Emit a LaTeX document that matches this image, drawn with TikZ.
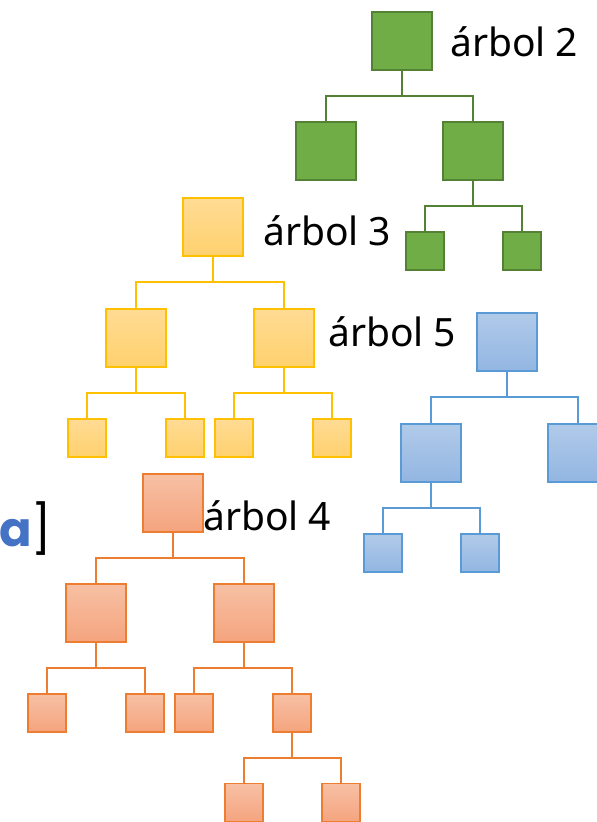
\documentclass[tikz,border=0pt]{standalone}
\usepackage{fontspec}
\setmainfont{Noto Sans}
\newfontfamily\popfont{Poppins}
\usetikzlibrary{calc}
\definecolor{gfill}{HTML}{70AD47}
\definecolor{gline}{HTML}{548235}
\definecolor{ytop}{HTML}{FFDB94}
\definecolor{ybot}{HTML}{FFD16E}
\definecolor{yline}{HTML}{FFC000}
\definecolor{btop}{HTML}{B1CAE9}
\definecolor{bbot}{HTML}{92B6E2}
\definecolor{bline}{HTML}{5B9BD5}
\definecolor{otop}{HTML}{F7C0A4}
\definecolor{obot}{HTML}{F5A47E}
\definecolor{oline}{HTML}{ED7D31}
\definecolor{ablue}{HTML}{4472C4}
\tikzset{
  sq/.style={rectangle, inner sep=0pt, outer sep=0pt},
  big/.style={sq, minimum width=60pt, minimum height=58pt},
  small/.style={sq, minimum width=38pt, minimum height=38pt},
  gbox/.style={draw=gline, line width=2.2pt, fill=gfill},
  ybox/.style={draw=yline, line width=1.6pt, top color=ytop, bottom color=ybot},
  bbox/.style={draw=bline, line width=1.8pt, top color=btop, bottom color=bbot},
  obox/.style={draw=oline, line width=1.8pt, top color=otop, bottom color=obot},
  glink/.style={draw=gline, line width=2pt},
  ylink/.style={draw=yline, line width=1.6pt},
  blink/.style={draw=bline, line width=1.6pt},
  olink/.style={draw=oline, line width=1.6pt},
  treelabel/.style={anchor=base west, inner sep=0pt, font=\fontsize{39}{39}\selectfont, text=black},
}
% parent-to-child elbow connector
\newcommand\elbow[3]{\draw[#1] (#2.south) -- ++(0,26) -| (#3.north);}
\begin{document}
\begin{tikzpicture}[x=1pt, y=-1pt]
  \useasboundingbox (0,0) rectangle (597,822);
  \begin{scope}
  \clip (0,0) rectangle (597,822);

  % green tree
  \node[big, gbox] (g0) at (402,41) {};
  \node[big, gbox] (g1) at (326,151) {};
  \node[big, gbox] (g2) at (473,151) {};
  \node[small, gbox] (g3) at (425,251) {};
  \node[small, gbox] (g4) at (522,251) {};
  \elbow{glink}{g0}{g1}
  \elbow{glink}{g0}{g2}
  \elbow{glink}{g2}{g3}
  \elbow{glink}{g2}{g4}
  \node[treelabel] (l2) at (450,56) {árbol 2};

  % yellow tree
  \node[big, ybox] (y0) at (213,227) {};
  \node[big, ybox] (y1) at (136,338) {};
  \node[big, ybox] (y2) at (284,338) {};
  \node[small, ybox] (y3) at (87,438) {};
  \node[small, ybox] (y4) at (185,438) {};
  \node[small, ybox] (y5) at (234,438) {};
  \node[small, ybox] (y6) at (332,438) {};
  \elbow{ylink}{y0}{y1}
  \elbow{ylink}{y0}{y2}
  \elbow{ylink}{y1}{y3}
  \elbow{ylink}{y1}{y4}
  \elbow{ylink}{y2}{y5}
  \elbow{ylink}{y2}{y6}
  \node[treelabel] (l3) at (263,245) {árbol 3};
  \node[treelabel] (l5) at (328,346) {árbol 5};

  % blue tree
  \node[big, bbox] (b0) at (507,342) {};
  \node[big, bbox] (b1) at (431,453) {};
  \node[big, bbox] (b2) at (578,453) {};
  \node[small, bbox] (b3) at (383,553) {};
  \node[small, bbox] (b4) at (480,553) {};
  \elbow{blink}{b0}{b1}
  \elbow{blink}{b0}{b2}
  \elbow{blink}{b1}{b3}
  \elbow{blink}{b1}{b4}

  % orange tree
  \node[big, obox] (o0) at (173,503) {};
  \node[big, obox] (o1) at (96,613) {};
  \node[big, obox] (o2) at (244,613) {};
  \node[small, obox] (o3) at (47,713) {};
  \node[small, obox] (o4) at (145,713) {};
  \node[small, obox] (o5) at (194,713) {};
  \node[small, obox] (o6) at (292,713) {};
  \node[small, obox] (o7) at (244,802.5) {};
  \node[small, obox] (o8) at (341,802.5) {};
  \elbow{olink}{o0}{o1}
  \elbow{olink}{o0}{o2}
  \elbow{olink}{o1}{o3}
  \elbow{olink}{o1}{o4}
  \elbow{olink}{o2}{o5}
  \elbow{olink}{o2}{o6}
  \elbow{olink}{o6}{o7}
  \elbow{olink}{o6}{o8}
  \node[treelabel] (l4) at (203,530) {árbol 4};

  % bracketed letter at the left edge
  \node[anchor=base west, inner sep=0pt, font=\popfont\fontsize{48}{48}\selectfont] (tag) at (-1,546)
    {\textcolor{ablue}{\bfseries a}]};
  \end{scope}
\end{tikzpicture}
\end{document}
